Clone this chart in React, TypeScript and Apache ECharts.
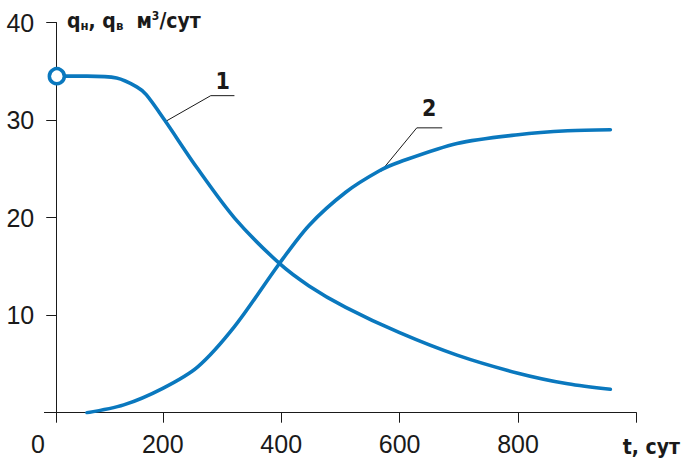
import React, { useEffect, useRef } from "react";
import * as echarts from "echarts";

// Curve 1: oil rate q_н (м³/сут) vs time t (сут)
const tOil = [21, 72, 122, 156, 172, 203, 259, 322, 397, 447, 509, 600, 697, 800, 884, 956];
const qOil = [34.5, 34.5, 34.3, 33.4, 32.6, 30.0, 25.0, 19.9, 15.3, 13.0, 10.8, 8.2, 5.9, 4.05, 2.96, 2.4];
// Curve 2: water rate q_в
const tWater = [72, 134, 200, 259, 322, 397, 447, 509, 566, 600, 697, 800, 884, 956];
const qWater = [0, 0.8, 2.5, 4.7, 8.9, 15.3, 19.2, 22.6, 24.8, 25.7, 27.6, 28.5, 28.9, 29.0];

// Leader lines and their numbers
const leader1T = [203, 281, 321];
const leader1Q = [29.8, 32.5, 32.5];
const leader2T = [568, 629, 672];
const leader2Q = [24.7, 29.2, 29.2];
const curveNames = ["1", "2"];
const curveLabelT = [301, 650];
const curveLabelQ = [34.0, 31.2];

// Axes
const xTicks = [20, 200, 400, 600, 800, 1000];
const xLabels = [0, 200, 400, 600, 800];
const yTicks = [0, 10, 20, 30, 40];
const yLabels = [10, 20, 30, 40];
const yAxisAtT = 20;

const BLUE = "#0a78be";
const INK = "#1a1a1a";
const FONT = "'Liberation Sans Narrow', 'Liberation Sans', Arial, sans-serif";
const BOLD_FONT = "'DejaVu Sans Condensed', 'Liberation Sans', Arial, sans-serif";

export default function App() {
  const ref = useRef<HTMLDivElement>(null);
  useEffect(() => {
    if (!ref.current) return;
    const chart = echarts.init(ref.current, undefined, { renderer: "svg" });
    const gridLeft = 44.4;
    const gridWidth = 592;
    const zip = (a: number[], b: number[]) => a.map((v, i) => [v, b[i]]);
    chart.setOption({
      animation: false,
      backgroundColor: "#ffffff",
      grid: { left: gridLeft, width: gridWidth, top: 22.5, bottom: 45.3 },
      xAxis: {
        type: "value",
        min: 0,
        max: 1000,
        interval: 200,
        splitLine: { show: false },
        axisLine: { onZero: false, lineStyle: { color: INK, width: 1 } },
        axisTick: { customValues: xTicks, length: 10, lineStyle: { color: INK, width: 1 } },
        axisLabel: {
          customValues: xLabels,
          margin: 19,
          color: INK,
          fontFamily: FONT,
          fontSize: 25,
          formatter: (v: number) => (v === 0 ? "{z|0}" : String(v)),
          rich: { z: { fontFamily: FONT, fontSize: 25, color: INK, padding: [0, 13, 0, 0] } },
        },
      },
      yAxis: {
        type: "value",
        min: 0,
        max: 40,
        interval: 10,
        offset: -(yAxisAtT / 1000) * gridWidth,
        splitLine: { show: false },
        axisLine: { onZero: false, lineStyle: { color: INK, width: 1 } },
        axisTick: { customValues: yTicks, length: 10, lineStyle: { color: INK, width: 1 } },
        axisLabel: {
          customValues: yLabels,
          margin: 22,
          color: INK,
          fontFamily: FONT,
          fontSize: 25,
        },
      },
      series: [
        {
          type: "line",
          data: zip(tOil, qOil),
          smooth: 0.3,
          showSymbol: false,
          lineStyle: { color: BLUE, width: 3.6, cap: "round" },
          z: 3,
        },
        {
          type: "line",
          data: zip(tWater, qWater),
          smooth: 0.3,
          showSymbol: false,
          lineStyle: { color: BLUE, width: 3.6, cap: "round" },
          z: 3,
        },
        {
          type: "scatter",
          data: [[tOil[0], qOil[0]]],
          symbol: "circle",
          symbolSize: 15,
          itemStyle: { color: "#ffffff", borderColor: BLUE, borderWidth: 3.5, opacity: 1 },
          z: 5,
        },
        {
          type: "line",
          data: zip(leader1T, leader1Q),
          showSymbol: false,
          lineStyle: { color: INK, width: 1 },
          z: 2,
        },
        {
          type: "line",
          data: zip(leader2T, leader2Q),
          showSymbol: false,
          lineStyle: { color: INK, width: 1 },
          z: 2,
        },
        {
          type: "scatter",
          data: curveNames.map((n, i) => ({ name: n, value: [curveLabelT[i], curveLabelQ[i]] })),
          symbolSize: 1,
          itemStyle: { color: "rgba(0,0,0,0)", opacity: 1 },
          label: {
            show: true,
            position: "inside",
            formatter: "{b}",
            fontFamily: BOLD_FONT,
            fontWeight: "bold",
            fontSize: 23,
            color: INK,
            opacity: 1,
          },
          z: 6,
        },
      ],
      graphic: [
        {
          type: "text",
          left: 67,
          top: 10,
          style: {
            text: "{b|q}{s|н}{b|, q}{s|в}{b|  м}{p|3}{b|/сут}",
            fill: INK,
            rich: {
              b: { fontFamily: BOLD_FONT, fontWeight: "bold", fontSize: 21, fill: INK, verticalAlign: "middle" },
              s: { fontFamily: BOLD_FONT, fontWeight: "bold", fontSize: 13, fill: INK, padding: [9, 0, 0, 0] },
              p: { fontFamily: BOLD_FONT, fontWeight: "bold", fontSize: 12, fill: INK, padding: [0, 0, 10, 0] },
            },
          },
        },
        {
          type: "text",
          right: 3,
          top: 436,
          style: {
            text: "t, сут",
            fill: INK,
            fontFamily: BOLD_FONT,
            fontWeight: "bold",
            fontSize: 21,
          },
        },
      ],
    });
    return () => chart.dispose();
  }, []);
  return (
    <div
      ref={ref}
      style={{ position: "fixed", left: 0, top: 0, width: 683, height: 458 }}
    />
  );
}
